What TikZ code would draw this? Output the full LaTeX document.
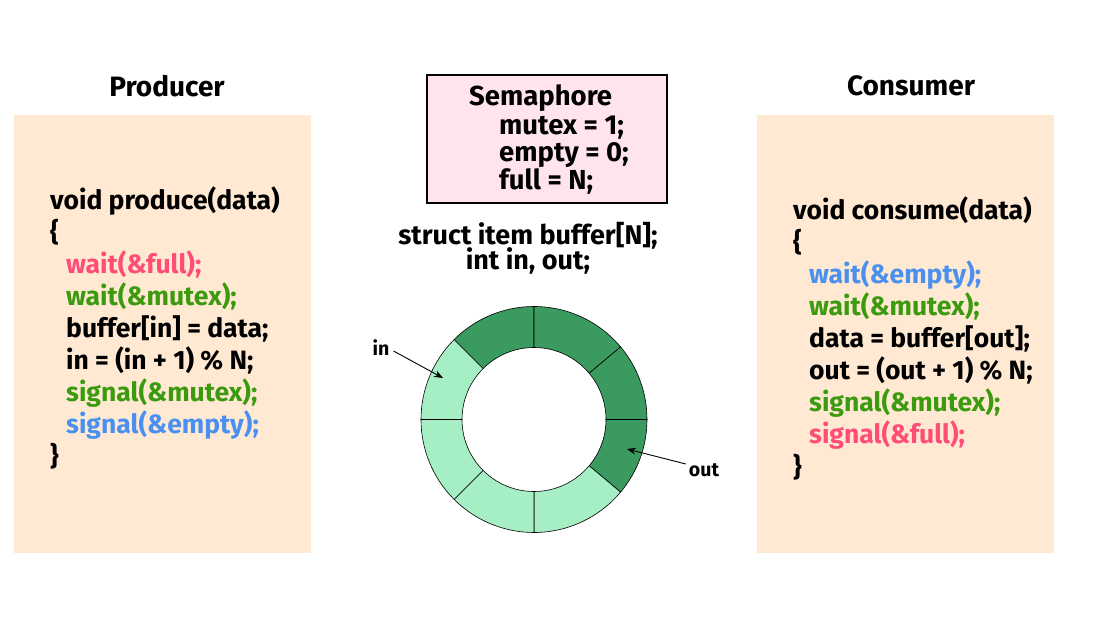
\documentclass[tikz,border=0pt]{standalone}
\usepackage{fontspec}
\setmainfont{Fira Sans}
\usetikzlibrary{arrows.meta, positioning}

\definecolor{peach}{RGB}{255,233,210}
\definecolor{semapink}{RGB}{255,228,240}
\definecolor{ringdark}{RGB}{58,154,96}
\definecolor{ringlight}{RGB}{166,238,196}
\definecolor{codered}{RGB}{255,77,120}
\definecolor{codegreen}{RGB}{60,154,15}
\definecolor{codeblue}{RGB}{74,144,240}

\begin{document}
\begin{tikzpicture}[x=1pt, y=1pt, >=Stealth, font=\fontsize{26.5}{30}\selectfont\bfseries,
  codebox/.style={fill=peach, draw=none, minimum width=297pt, minimum height=438pt, inner sep=0pt},
  codeline/.style={anchor=base west, inner sep=0pt},
  semline/.style={anchor=base west, inner sep=0pt, font=\fontsize{27.5}{30}\selectfont\bfseries},
  title/.style={font=\fontsize{28}{30}\selectfont\bfseries, inner sep=0pt},
  ptrlabel/.style={font=\fontsize{19.5}{22}\selectfont\bfseries, inner sep=0pt}]
\useasboundingbox (0,0) rectangle (1097,624);

% producer / consumer panels
\node[codebox] (prodbox) at (162.5,290) {};
\node[codebox] (consbox) at (905.5,290) {};
\node[title] (prodtitle) at (167,538) {Producer};
\node[title] (constitle) at (911,538) {Consumer};

% producer code
\node[codeline] (p1) at (50,414) {void produce(data)};
\node[codeline] (p2) at (50,382) {\{};
\node[codeline, text=codered] (p3) at (66,350) {wait(\&full);};
\node[codeline, text=codegreen] (p4) at (66,318) {wait(\&mutex);};
\node[codeline] (p5) at (66,286) {buffer[in] = data;};
\node[codeline] (p6) at (66,254) {in = (in + 1) \% N;};
\node[codeline, text=codegreen] (p7) at (66,222) {signal(\&mutex);};
\node[codeline, text=codeblue] (p8) at (66,190) {signal(\&empty);};
\node[codeline] (p9) at (50,158) {\}};

% consumer code
\node[codeline] (c1) at (793,404) {void consume(data)};
\node[codeline] (c2) at (793,372) {\{};
\node[codeline, text=codeblue] (c3) at (809,340) {wait(\&empty);};
\node[codeline, text=codegreen] (c4) at (809,308) {wait(\&mutex);};
\node[codeline] (c5) at (809,276) {data = buffer[out];};
\node[codeline] (c6) at (809,244) {out = (out + 1) \% N;};
\node[codeline, text=codegreen] (c7) at (809,212) {signal(\&mutex);};
\node[codeline, text=codered] (c8) at (809,180) {signal(\&full);};
\node[codeline] (c9) at (793,148) {\}};

% semaphores
\node[draw, line width=1.3pt, fill=semapink, minimum width=240pt, minimum height=128pt, inner sep=0pt] (sem) at (547,485) {};
\node[semline] (semtitle) at (469,518) {Semaphore};
\node[semline] (semmutex) at (499,489) {mutex = 1;};
\node[semline] (semempty) at (499,462) {empty = 0;};
\node[semline] (semfull) at (499,434) {full = N;};

% buffer declaration
\node[inner sep=0pt, align=center, font=\fontsize{27}{21}\selectfont\bfseries] (decl) at (528,376) {struct item buffer[N];\\[-3pt]int in, out;};

% ring buffer
\coordinate (ring) at (534,204.5);
\begin{scope}[shift={(ring)}, line width=0.6pt]
\foreach \a/\b/\c in {90/135/ringdark, 40/90/ringdark, 0/40/ringdark, -40/0/ringdark,
  -90/-40/ringlight, -135/-90/ringlight, 180/225/ringlight, 135/180/ringlight}
  \draw[fill=\c] (\a:113pt) arc[start angle=\a, end angle=\b, radius=113pt]
    -- (\b:72pt) arc[start angle=\b, end angle=\a, radius=72pt] -- cycle;
\end{scope}

% in / out pointers
\node[ptrlabel] (inlbl) at (381,276) {in};
\node[ptrlabel] (outlbl) at (704,154) {out};
\coordinate (inhead) at (443,246);
\coordinate (outhead) at (627,175);
\draw[-{Stealth[length=9pt, width=7pt]}, line width=0.9pt] (inlbl.east) ++(4,-3) -- (inhead);
\draw[-{Stealth[length=9pt, width=7pt]}, line width=0.9pt] (outlbl.west) ++(-3,6) -- (outhead);
\end{tikzpicture}
\end{document}
